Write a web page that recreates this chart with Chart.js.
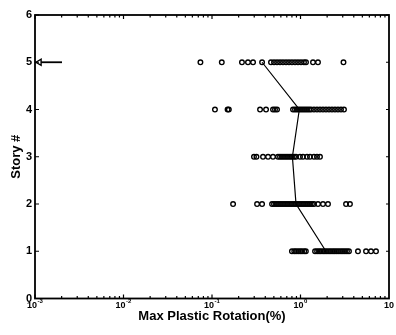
<!DOCTYPE html>
<html>
<head>
<meta charset="utf-8">
<script src="https://cdn.jsdelivr.net/npm/chart.js@4/dist/chart.umd.min.js"></script>
<style>
  html, body { margin: 0; padding: 0; background: #fff; }
  canvas { display: block; }
</style>
</head>
<body>
<canvas id="chart" width="396" height="335"></canvas>
<script>
// Maximum plastic rotation (%) recorded at each story, one entry per record
const story1 = [0.80, 0.85, 0.89, 0.94, 0.99, 1.04, 1.10, 1.15,
                1.46, 1.54, 1.62, 1.70, 1.80, 1.89, 1.99, 2.10, 2.21, 2.33, 2.45,
                2.58, 2.72, 2.87, 3.02, 3.18, 3.35, 3.53, 4.46, 5.50, 6.26, 7.13];
const story2 = [0.173, 0.323, 0.368,
                0.477, 0.502, 0.529, 0.557, 0.587, 0.618, 0.651, 0.686, 0.722, 0.761,
                0.801, 0.845, 0.889, 0.937, 0.987, 1.04, 1.095, 1.154, 1.215, 1.28,
                1.348, 1.42, 1.576, 1.795, 2.045, 3.27, 3.62];
const story3 = [0.298, 0.318, 0.377, 0.430, 0.489,
                0.557, 0.587, 0.618, 0.651, 0.686, 0.722, 0.761, 0.801, 0.845,
                0.889, 0.987, 1.067, 1.184, 1.28, 1.42, 1.536, 1.66];
const story4 = [0.108, 0.150, 0.155, 0.349, 0.408, 0.489, 0.515, 0.543,
                0.823, 0.867, 0.913, 0.962, 1.013, 1.067, 1.124, 1.184, 1.247, 1.314,
                1.42, 1.536, 1.66, 1.795, 1.941, 2.099, 2.269, 2.453, 2.652, 2.868, 3.10];
const story5 = [0.074, 0.129, 0.218, 0.255, 0.291, 0.368,
                0.464, 0.502, 0.543, 0.587, 0.634, 0.686, 0.741, 0.801, 0.867, 0.937,
                1.013, 1.095, 1.154, 1.384, 1.576, 3.06];

const stories = [1, 2, 3, 4, 5];
const storyRotations = [story1, story2, story3, story4, story5];

// Median rotation per story (stories 1..5)
const medianRotation = [1.94, 0.89, 0.81, 0.97, 0.368];

// Arrow at story 5 marking records below the axis range
const arrowRotation = [0.00112, 0.00202];
const arrowStory = 5;

// Axis ticks
const yTickValues = [0, 1, 2, 3, 4, 5, 6];
const xTickValues = [0.001, 0.01, 0.1, 1, 10];
const xTickBase = ['10', '10', '10', '10', '10'];
const xTickExp = ['-3', '-2', '-1', '0', ''];

const FONT = "'Liberation Sans', Arial, Helvetica, sans-serif";

const scatterPoints = [];
storyRotations.forEach((vals, i) => {
  vals.forEach(v => scatterPoints.push({ x: v, y: stories[i] }));
});
const medianPoints = medianRotation.map((v, i) => ({ x: v, y: stories[i] }));
const arrowPoints = arrowRotation.map(v => ({ x: v, y: arrowStory }));

// Boxed axes with inward ticks and superscript decade labels
const framePlugin = {
  id: 'frame',
  afterDraw(chart) {
    const { ctx, chartArea: a, scales: { x, y } } = chart;
    ctx.save();
    ctx.strokeStyle = '#000';
    ctx.lineWidth = 1.8;
    ctx.strokeRect(a.left, a.top, a.right - a.left, a.bottom - a.top);

    ctx.lineWidth = 1.2;
    ctx.beginPath();
    yTickValues.forEach(v => {
      const py = y.getPixelForValue(v);
      ctx.moveTo(a.left, py); ctx.lineTo(a.left + 4, py);
      ctx.moveTo(a.right, py); ctx.lineTo(a.right - 3, py);
    });
    for (let e = -3; e <= 0; e++) {
      for (let k = 1; k <= 9; k++) {
        const px = x.getPixelForValue(k * Math.pow(10, e));
        const len = k === 1 ? 4 : 2.5;
        ctx.moveTo(px, a.bottom); ctx.lineTo(px, a.bottom - len);
        ctx.moveTo(px, a.top); ctx.lineTo(px, a.top + len);
      }
    }
    ctx.stroke();

    ctx.fillStyle = '#000';
    ctx.textBaseline = 'alphabetic';
    ctx.textAlign = 'left';
    xTickValues.forEach((v, i) => {
      const px = x.getPixelForValue(v);
      ctx.font = 'bold 9px ' + FONT;
      const wb = ctx.measureText(xTickBase[i]).width;
      ctx.font = 'bold 6px ' + FONT;
      const we = xTickExp[i] ? ctx.measureText(xTickExp[i]).width + 0.5 : 0;
      const x0 = px - (wb + we) / 2;
      ctx.font = 'bold 9px ' + FONT;
      ctx.fillText(xTickBase[i], x0, a.bottom + 9);
      if (xTickExp[i]) {
        ctx.font = 'bold 6px ' + FONT;
        ctx.fillText(xTickExp[i], x0 + wb + 0.5, a.bottom + 4.5);
      }
    });
    ctx.restore();
  }
};

new Chart(document.getElementById('chart'), {
  type: 'scatter',
  data: {
    datasets: [
      {
        type: 'line',
        label: 'Median',
        data: medianPoints,
        borderColor: '#000',
        borderWidth: 1.2,
        pointRadius: 0,
        fill: false,
        tension: 0
      },
      {
        type: 'line',
        label: 'Below range',
        data: arrowPoints,
        borderColor: '#000',
        borderWidth: 1.8,
        pointStyle: ['triangle', 'circle'],
        pointRadius: [3.5, 0],
        pointRotation: [-90, 0],
        pointBackgroundColor: '#fff',
        pointBorderColor: '#000',
        pointBorderWidth: 1.4,
        fill: false,
        clip: false
      },
      {
        label: 'Records',
        data: scatterPoints,
        pointStyle: 'circle',
        pointRadius: 2.3,
        borderWidth: 1.35,
        borderColor: '#000',
        backgroundColor: 'rgba(0,0,0,0)'
      }
    ]
  },
  options: {
    responsive: false,
    animation: false,
    devicePixelRatio: 1,
    layout: { padding: { top: 15, right: 7, left: 0, bottom: 0 } },
    plugins: { legend: { display: false }, tooltip: { enabled: false } },
    scales: {
      x: {
        type: 'logarithmic',
        position: 'bottom',
        min: 0.001,
        max: 10,
        grid: { display: false, drawTicks: false },
        border: { display: false },
        ticks: { display: false },
        title: {
          display: true,
          text: 'Max Plastic Rotation(%)',
          color: '#000',
          font: { family: FONT, size: 13, weight: 'bold', lineHeight: 1 },
          padding: { top: 0, bottom: 12 }
        },
        afterFit(scale) { scale.height = 36.5; }
      },
      y: {
        type: 'linear',
        min: 0,
        max: 6,
        grid: { display: false, drawTicks: false },
        border: { display: false },
        ticks: {
          stepSize: 1,
          color: '#000',
          padding: 3,
          font: { family: FONT, size: 11, weight: 'bold' }
        },
        title: {
          display: true,
          text: 'Story #',
          color: '#000',
          font: { family: FONT, size: 13, weight: 'bold', lineHeight: 1 },
          padding: { top: 10, bottom: 0 }
        },
        afterFit(scale) { scale.width = 35; }
      }
    }
  },
  plugins: [framePlugin]
});
</script>
</body>
</html>
